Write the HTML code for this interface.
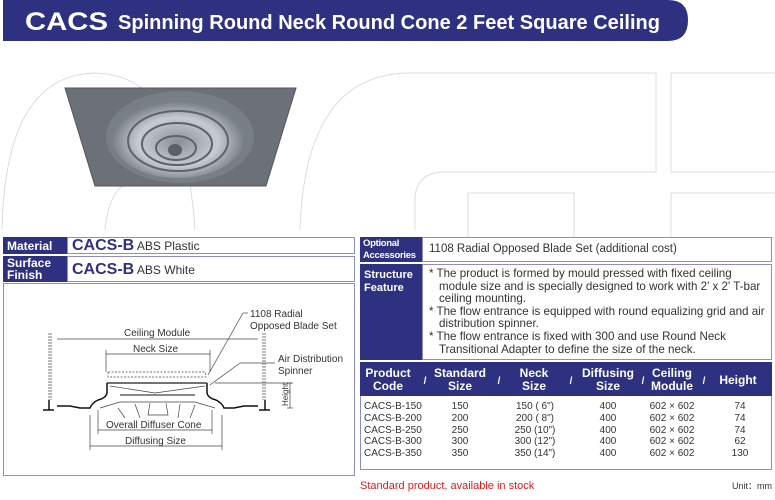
<!DOCTYPE html>
<html><head><meta charset="utf-8"><style>
*{margin:0;padding:0;box-sizing:border-box}
body{width:775px;height:500px;position:relative;background:#fff;font-family:"Liberation Sans",Arial,sans-serif;overflow:hidden;color:#333}
.a{position:absolute}
.nv{background:#2e3180;color:#fff;font-weight:bold}
.bx{border:1px solid #8d8fb8;background:#fff}
</style></head><body>
<svg class="a" style="left:0;top:0" width="775" height="500">
 <g fill="none" stroke="#dcdcdc" stroke-width="1">
  <path d="M2,230 Q5,75 95,73 Q185,75 195,230"/>
  <path d="M105,230 Q110,180 140,180"/>
  <path d="M300,230 Q305,73 410,73 L656,73 L656,172 L440,172 Q415,175 415,200 L415,230"/>
  <rect x="671" y="73" width="110" height="99"/>
  <rect x="468" y="193" width="106" height="45"/>
  <rect x="671" y="193" width="110" height="45"/>
 </g>
 <path d="M3,0 L668,0 Q688,0 688,20 Q688,41 668,41 L3,41 Z" fill="#2e3180"/>
 <text x="25" y="30" fill="#fff" font-weight="bold" font-size="25" font-family="Liberation Sans" textLength="83" lengthAdjust="spacingAndGlyphs">CACS</text>
 <text x="118" y="29" fill="#fff" font-weight="bold" font-size="20" font-family="Liberation Sans" textLength="542" lengthAdjust="spacingAndGlyphs">Spinning Round Neck Round Cone 2 Feet Square Ceiling</text>
 <defs><radialGradient id="g" cx="0.5" cy="0.55" r="0.5"><stop offset="0" stop-color="#8a9098"/><stop offset="0.6" stop-color="#c8ccd2"/><stop offset="1" stop-color="#7a8088"/></radialGradient></defs>
 <path d="M65,88 L296,88 L266,186 L95,186 Z" fill="#6c7179" stroke="#555" stroke-width="1"/>
 <ellipse cx="180" cy="137" rx="74" ry="46" fill="#787e86"/>
 <ellipse cx="178" cy="138" rx="66" ry="40" fill="url(#g)"/>
 <g fill="none" stroke="#5d636b" stroke-width="2"><ellipse cx="178" cy="141" rx="50" ry="30"/><ellipse cx="177" cy="144" rx="35" ry="21"/><ellipse cx="176" cy="148" rx="20" ry="12"/></g>
 <ellipse cx="175" cy="150" rx="7" ry="6" fill="#5a6068"/>
</svg>

<!-- left panel -->
<div class="a nv" style="left:3px;top:237px;width:64px;height:17px;font-size:12px;padding:2px 0 0 4px">Material</div>
<div class="a bx" style="left:67px;top:237px;width:288px;height:17px;font-size:12px;padding:0 0 0 4px;line-height:15px"><b style="color:#2e3180;font-size:16px">CACS-B</b> ABS Plastic</div>
<div class="a nv" style="left:3px;top:256px;width:64px;height:26px;font-size:12px;padding:1px 0 0 4px;line-height:12px">Surface<br>Finish</div>
<div class="a bx" style="left:67px;top:256px;width:288px;height:26px;font-size:12px;padding:4px 0 0 4px"><b style="color:#2e3180;font-size:16px">CACS-B</b> ABS White</div>
<div class="a bx" style="left:3px;top:283px;width:352px;height:193px"></div>
<svg class="a" style="left:0;top:0" width="360" height="480" font-family="Liberation Sans" font-size="10" fill="#333">
 <g stroke="#444" stroke-width="0.7" fill="none">
  <line x1="49" y1="333" x2="49" y2="400" stroke-dasharray="2,1"/><line x1="51" y1="333" x2="51" y2="400" stroke-dasharray="2,1"/>
  <line x1="263" y1="333" x2="263" y2="400" stroke-dasharray="2,1"/><line x1="265" y1="333" x2="265" y2="400" stroke-dasharray="2,1"/>
  <line x1="57" y1="339" x2="258" y2="339"/>
  <line x1="106" y1="354" x2="210" y2="354"/><line x1="106" y1="350" x2="106" y2="372"/><line x1="210" y1="350" x2="210" y2="372"/>
  <path d="M108,372 L205,372 L206,377 L108,377 Z" stroke-dasharray="2,1.5"/>
  <line x1="107" y1="383" x2="207" y2="383" stroke-width="1.5"/>
  <path d="M110,386 L155,393 L205,386" />
  <line x1="120" y1="395" x2="195" y2="395" stroke-width="1.2"/>
  <line x1="243" y1="313" x2="208" y2="375"/><line x1="243" y1="313" x2="248" y2="313"/>
  <line x1="275" y1="363" x2="240" y2="363"/><line x1="240" y1="363" x2="210" y2="385"/>
  <line x1="215" y1="383" x2="292" y2="383"/>
  <line x1="290" y1="383" x2="290" y2="408"/><line x1="287" y1="383" x2="293" y2="383"/><line x1="287" y1="408" x2="293" y2="408"/>
  <line x1="98" y1="430" x2="212" y2="430"/><line x1="98" y1="410" x2="98" y2="434"/><line x1="212" y1="410" x2="212" y2="434"/>
  <line x1="90" y1="446" x2="222" y2="446"/><line x1="90" y1="415" x2="90" y2="450"/><line x1="222" y1="415" x2="222" y2="450"/>
  <path d="M100,408 L120,402 L195,402 L215,408"/>
  <path d="M118,408 L125,418 M135,404 L140,418 M150,403 L148,415 L168,415 L166,403 M180,404 L178,418 M195,405 L190,418"/>
 </g>
 <g stroke="#111" stroke-width="1.5" fill="none">
  <path d="M107,383 L107,393 Q106,398 98,400 Q92,403 90,408 L80,408 L70,406 L57,406"/>
  <path d="M207,383 L207,393 Q208,398 216,400 Q222,403 224,408 L234,408 L244,406 L258,406"/>
  <path d="M43,410 L54,410 M49,410 L49,400"/><path d="M259,410 L270,410 M265,410 L265,400"/>
 </g>
 <text x="124" y="336">Ceiling Module</text>
 <text x="133" y="352">Neck Size</text>
 <text x="250" y="317">1108 Radial</text>
 <text x="250" y="329">Opposed Blade Set</text>
 <text x="278" y="362">Air Distribution</text>
 <text x="278" y="374">Spinner</text>
 <text x="106" y="428">Overall Diffuser Cone</text>
 <text x="125" y="444">Diffusing Size</text>
 <text transform="translate(288,406) rotate(-90)" font-size="8">Height</text>
</svg>

<!-- right panel -->
<div class="a nv" style="left:360px;top:237px;width:62px;height:25px;font-size:9.5px;padding:1px 0 0 3px;line-height:12px;letter-spacing:-0.3px">Optional<br>Accessories</div>
<div class="a bx" style="left:422px;top:237px;width:350px;height:25px;font-size:11.5px;padding:5px 0 0 6px">1108 Radial Opposed Blade Set (additional cost)</div>
<div class="a nv" style="left:360px;top:264px;width:62px;height:96px;font-size:11px;padding:5px 0 0 4px;line-height:13px">Structure<br>Feature</div>
<div class="a bx" style="left:422px;top:264px;width:350px;height:96px;font-size:11.6px;padding:3px 0 0 6px;line-height:12.6px">
<div style="padding-left:10px;text-indent:-10px">* The product is formed by mould pressed with fixed ceiling module size and is specially designed to work with 2' x 2' T-bar ceiling mounting.</div>
<div style="padding-left:10px;text-indent:-10px">* The flow entrance is equipped with round equalizing grid and air distribution spinner.</div>
<div style="padding-left:10px;text-indent:-10px">* The flow entrance is fixed with 300 and use Round Neck Transitional Adapter to define the size of the neck.</div></div>
<div class="a bx" style="left:360px;top:362px;width:412px;height:108px"></div>
<div class="a nv" style="left:360px;top:362px;width:412px;height:34px"></div>
<svg class="a" style="left:0;top:0" width="775" height="500" font-family="Liberation Sans">
 <g fill="#fff" font-weight="bold" font-size="12" text-anchor="middle">
  <text x="388" y="377">Product</text><text x="388" y="390">Code</text>
  <text x="460" y="377">Standard</text><text x="460" y="390">Size</text>
  <text x="534" y="377">Neck</text><text x="534" y="390">Size</text>
  <text x="608" y="377">Diffusing</text><text x="608" y="390">Size</text>
  <text x="672" y="377">Ceiling</text><text x="672" y="390">Module</text>
  <text x="738" y="384">Height</text>
  <text x="425" y="384" font-size="10">/</text><text x="499" y="384" font-size="10">/</text><text x="571" y="384" font-size="10">/</text><text x="643" y="384" font-size="10">/</text><text x="704" y="384" font-size="10">/</text>
 </g>
 <g fill="#333" font-size="10">
  <g><text x="364" y="409">CACS-B-150</text><text x="364" y="421">CACS-B-200</text><text x="364" y="433">CACS-B-250</text><text x="364" y="444">CACS-B-300</text><text x="364" y="456">CACS-B-350</text></g>
  <g text-anchor="middle"><text x="460" y="409">150</text><text x="460" y="421">200</text><text x="460" y="433">250</text><text x="460" y="444">300</text><text x="460" y="456">350</text>
  <text x="535" y="409">150 ( 6")</text><text x="535" y="421">200 ( 8")</text><text x="535" y="433">250 (10")</text><text x="535" y="444">300 (12")</text><text x="535" y="456">350 (14")</text>
  <text x="608" y="409">400</text><text x="608" y="421">400</text><text x="608" y="433">400</text><text x="608" y="444">400</text><text x="608" y="456">400</text>
  <text x="672" y="409">602 × 602</text><text x="672" y="421">602 × 602</text><text x="672" y="433">602 × 602</text><text x="672" y="444">602 × 602</text><text x="672" y="456">602 × 602</text>
  <text x="740" y="409">74</text><text x="740" y="421">74</text><text x="740" y="433">74</text><text x="740" y="444">62</text><text x="740" y="456">130</text></g>
 </g>
 <text x="360" y="489" fill="#d42020" font-size="11">Standard product, available in stock</text>
 <text x="772" y="489" fill="#333" font-size="9" text-anchor="end">Unit：mm</text>
</svg>
</body></html>
